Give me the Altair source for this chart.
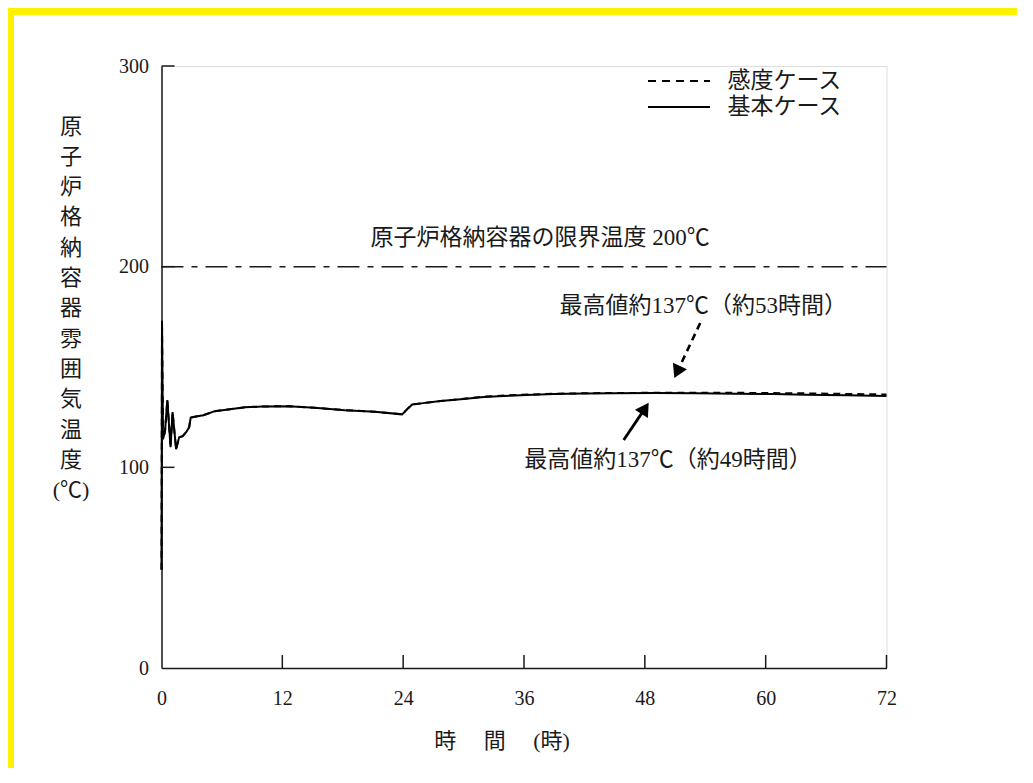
import altair as alt
import pandas as pd

# ---- data ----
t_base = [0, 0.05, 0.15, 0.35, 0.58, 0.9, 1.1, 1.45, 1.75, 2.1, 2.45, 2.75, 2.9, 3.3, 4.15,
          5.3, 6.8, 8.3, 10, 12.6, 15.2, 18.2, 21.2, 23.9, 24.5, 24.9, 26, 27.7, 30, 32,
          34, 36.9, 39, 41.9, 45, 49, 53, 57, 60.7, 64, 68, 72]
temp_base = [49, 173, 114, 118, 133.5, 110, 127.5, 109, 115, 115.5, 117.5, 120, 124.8, 125.2, 126,
             128, 129, 129.9, 130.3, 130.5, 129.7, 128.5, 127.7, 126.4, 129.5, 131.3, 132, 133, 134.1, 135,
             135.6, 136.2, 136.5, 136.8, 136.95, 137.0, 136.9, 136.7, 136.5, 136.2, 135.9, 135.5]

t_sens = [0, 0.05, 0.15, 0.35, 0.58, 0.9, 1.1, 1.45, 1.75, 2.1, 2.45, 2.75, 2.9, 3.3, 4.15,
          5.3, 6.8, 8.3, 10, 12.6, 15.2, 18.2, 21.2, 23.9, 24.5, 24.9, 26, 27.7, 30, 32,
          34, 36.9, 39, 41.9, 45, 49, 53, 57, 60.7, 64, 68, 72]
temp_sens = [49, 173, 114, 118, 133.5, 110, 127.5, 109, 115, 115.5, 117.5, 120, 124.8, 125.2, 126,
             128, 129, 129.9, 130.3, 130.5, 129.7, 128.5, 127.7, 126.4, 129.5, 131.3, 132, 133, 134.2, 135.2,
             135.8, 136.35, 136.65, 136.9, 137.05, 137.15, 137.2, 137.15, 137.0, 136.85, 136.6, 136.3]

case_names = ["感度ケース", "基本ケース"]

x_ticks = [0, 12, 24, 36, 48, 60, 72]
x_inner_ticks = [12, 24, 36, 48, 60, 72]
y_ticks = [0, 100, 200, 300]
y_inner_ticks = [100, 200, 300]

limit_temp = 200
limit_label = "原子炉格納容器の限界温度 200℃"
limit_label_x = 37.6
limit_label_y = 214.5

ann_text = ["最高値約137℃（約53時間）", "最高値約137℃（約49時間）"]
ann_x = [53.8, 50.3]
ann_y = [180.4, 103.6]

arrow_case = ["感度ケース", "基本ケース"]
arrow_x1 = [53.5, 45.9]
arrow_y1 = [171.9, 113.6]
arrow_x2 = [51.3, 47.9]
arrow_y2 = [148.5, 128.5]
arrow_angle = [205, 33]

y_title = ["原", "子", "炉", "格", "納", "容", "器", "雰", "囲", "気", "温", "度", "(℃)"]
x_title = "時　  間　 (時)"

# ---- tables ----
df_base = pd.DataFrame({"t": t_base, "temp": temp_base, "case": case_names[1]})
df_sens = pd.DataFrame({"t": t_sens, "temp": temp_sens, "case": case_names[0]})
df_limit = pd.DataFrame({"t0": [0], "t1": [72], "temp": [limit_temp],
                         "label": [limit_label], "lx": [limit_label_x], "ly": [limit_label_y]})
df_ann = pd.DataFrame({"text": ann_text, "x": ann_x, "y": ann_y})
df_arrow = pd.DataFrame({"case": arrow_case, "x1": arrow_x1, "y1": arrow_y1,
                         "x2": arrow_x2, "y2": arrow_y2, "angle": arrow_angle})
df_xt = pd.DataFrame({"t": x_inner_ticks})
df_yt = pd.DataFrame({"temp": y_inner_ticks})

W, H = 725, 602
INK = "#1a1a1a"
NUM = "Liberation Serif, Times New Roman, serif"
CJK = "Liberation Serif, Noto Sans CJK JP"

xscale = alt.Scale(domain=[0, 72], nice=False, zero=False)
yscale = alt.Scale(domain=[0, 300], nice=False)

x_enc = alt.X("t:Q", scale=xscale,
              axis=alt.Axis(values=x_ticks, title=x_title, ticks=False, grid=False,
                            labelFlush=False, labelOverlap=False,
                            labelPadding=20, labelFont=NUM, labelFontSize=20,
                            labelColor=INK, domainColor=INK, domainWidth=1.5,
                            titleFont=CJK, titleFontSize=22, titleFontWeight="normal",
                            titleColor=INK, titleX=340, titleY=72, titleAlign="center",
                            titleBaseline="middle"))
y_enc = alt.Y("temp:Q", scale=yscale,
              axis=alt.Axis(values=y_ticks, title=y_title, ticks=False, grid=False,
                            labelFlush=False, labelOverlap=False,
                            labelPadding=13, labelFont=NUM, labelFontSize=20,
                            labelColor=INK, domainColor=INK, domainWidth=1.5,
                            titleFont=CJK, titleFontSize=22, titleFontWeight="normal",
                            titleColor=INK, titleAngle=0, titleX=-91, titleY=50,
                            titleAlign="center", titleBaseline="top", titleLineHeight=30.3))

base_line = alt.Chart(df_base).mark_line(color="black", strokeWidth=2).encode(
    x=x_enc, y=y_enc)
sens_line = alt.Chart(df_sens).mark_line(color="black", strokeWidth=2, strokeDash=[7, 5]).encode(
    x="t:Q", y="temp:Q")

limit_rule = alt.Chart(df_limit).mark_rule(color=INK, strokeWidth=1.5, strokeDash=[22, 8, 6, 8]).encode(
    x="t0:Q", x2="t1:Q", y="temp:Q")
limit_text = alt.Chart(df_limit).mark_text(font=CJK, fontSize=23, color=INK,
                                           align="center", baseline="middle").encode(
    x="lx:Q", y="ly:Q", text="label:N")

ann_marks = alt.Chart(df_ann).mark_text(font=CJK, fontSize=23, color=INK,
                                        align="center", baseline="middle").encode(
    x="x:Q", y="y:Q", text="text:N")

arrow_sens = alt.Chart(df_arrow[df_arrow["case"] == case_names[0]]).mark_rule(
    color="black", strokeWidth=2.6, strokeDash=[7, 5]).encode(
    x="x1:Q", y="y1:Q", x2="x2:Q", y2="y2:Q")
arrow_base = alt.Chart(df_arrow[df_arrow["case"] == case_names[1]]).mark_rule(
    color="black", strokeWidth=2.8).encode(
    x="x1:Q", y="y1:Q", x2="x2:Q", y2="y2:Q")
arrow_heads = alt.Chart(df_arrow).mark_point(shape="triangle", filled=True, color="black",
                                             size=240, opacity=1).encode(
    x="x2:Q", y="y2:Q", angle=alt.Angle("angle:Q", scale=None))

x_tick_marks = alt.Chart(df_xt).mark_rule(color=INK, strokeWidth=1.5).encode(
    x="t:Q", y=alt.value(H), y2=alt.value(H - 13))
y_tick_marks = alt.Chart(df_yt).mark_rule(color=INK, strokeWidth=1.5).encode(
    y="temp:Q", x=alt.value(0), x2=alt.value(13))

# ---- legend (drawn as a key box at the upper right) ----
legend_dash = [[8, 6], [1, 0]]
legend_layers = []
for i, name in enumerate(case_names):
    row = pd.DataFrame({"case": [name]})
    yy = 15 + 26 * i
    legend_layers.append(
        alt.Chart(row).mark_rule(color="black", strokeWidth=2, strokeDash=legend_dash[i]).encode(
            x=alt.value(486.5), x2=alt.value(548.5), y=alt.value(yy)))
    legend_layers.append(
        alt.Chart(row).mark_text(font=CJK, fontSize=23, color=INK, align="left",
                                 baseline="middle").encode(
            x=alt.value(566), y=alt.value(yy), text="case:N"))

frame = alt.Chart(pd.DataFrame({"f": [0]})).mark_rect(
    fill="transparent", stroke="#fff200", strokeWidth=7).encode(
    x=alt.value(-151), y=alt.value(-54.5), x2=alt.value(1200), y2=alt.value(1000))

chart = alt.layer(
    frame, limit_rule, limit_text, base_line, sens_line, ann_marks,
    arrow_sens, arrow_base, arrow_heads, x_tick_marks, y_tick_marks, *legend_layers,
).properties(
    width=W, height=H,
    autosize=alt.AutoSizeParams(type="none"),
    padding={"left": 153.5, "top": 58, "right": 130, "bottom": 100},
).configure_view(stroke=None).configure(background="white")

chart.save("out.html", embed_options={"renderer": "svg", "actions": False})
